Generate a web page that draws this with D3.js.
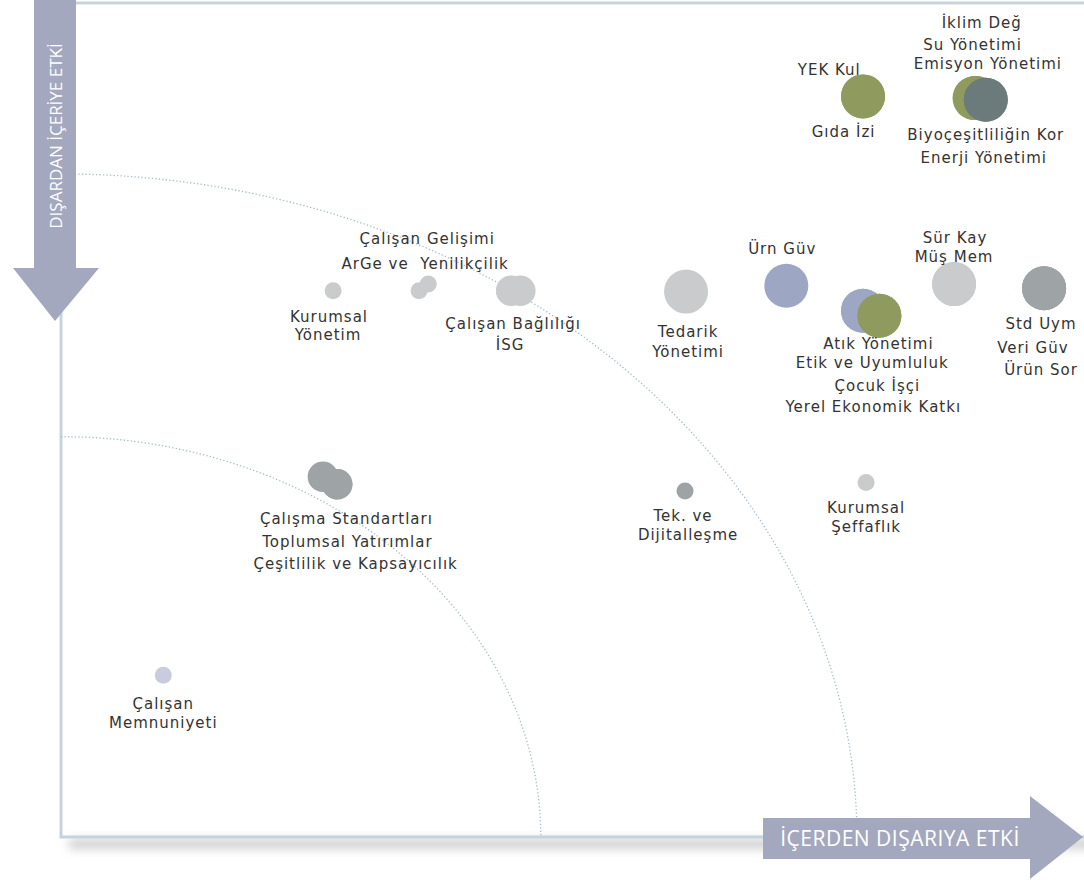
<!DOCTYPE html>
<html>
<head>
<meta charset="utf-8">
<script src="https://cdn.jsdelivr.net/npm/d3@7"></script>
<style>
  body { margin: 0; background: #fff; }
  svg { display: block; }
</style>
</head>
<body>
<div class="chart"></div>
<script>
const W = 1084, H = 880;
const textColor = "#333333";
const frameColor = "#c7d3da";
const arrowColor = "#a4a8be";
const fontFamily = "'DejaVu Sans', sans-serif";
const axisFont = "'Open Sans', sans-serif";

// topics: x = içerden dışarıya etki, y = dışardan içeriye etki (0-100)
const topics = [
    "YEK Kul", "Gıda İzi",
    "İklim Değ", "Su Yönetimi", "Emisyon Yönetimi", "Biyoçeşitliliğin Kor", "Enerji Yönetimi",
    "Kurumsal Yönetim", "ArGe ve Yenilikçilik", "Çalışan Gelişimi",
    "İSG", "Çalışan Bağlılığı", "Tedarik Yönetimi", "Ürn Güv",
    "Atık Yönetimi", "Çocuk İşçi", "Etik ve Uyumluluk", "Yerel Ekonomik Katkı",
    "Sür Kay", "Müş Mem", "Std Uym", "Veri Güv", "Ürün Sor",
    "Çalışma Standartları", "Toplumsal Yatırımlar", "Çeşitlilik ve Kapsayıcılık",
    "Tek. ve Dijitalleşme", "Kurumsal Şeffaflık", "Çalışan Memnuniyeti"
];
const impactOut = [
    78.4, 78.4,
    89.3, 89.4, 89.5, 90.4, 90.4,
    26.6, 35.0, 35.9,
    44.0, 44.9, 61.1, 70.9,
    78.4, 78.4, 80.0, 80.0,
    87.3, 87.3, 96.1, 96.1, 96.1,
    25.6, 27.0, 27.0,
    61.0, 78.7, 10.0
];
const impactIn = [
    88.8, 88.8,
    88.6, 88.6, 88.6, 88.4, 88.4,
    65.5, 65.5, 66.3,
    65.5, 65.5, 65.4, 66.1,
    63.1, 63.1, 62.5, 62.5,
    66.3, 66.3, 65.8, 65.8, 65.8,
    43.2, 42.3, 42.3,
    41.5, 42.5, 19.4
];
const weight = [
    3, 3,
    3, 3, 3, 3, 3,
    1, 1, 1,
    2, 2, 3, 3,
    3, 3, 3, 3,
    3, 3, 3, 3, 3,
    2, 2, 2,
    1, 1, 1
];
const group = [
    "cevre", "cevre",
    "cevre", "cevre", "cevre", "enerji", "enerji",
    "yonetim", "yonetim", "yonetim",
    "yonetim", "yonetim", "yonetim", "urun",
    "urun", "urun", "cevre", "cevre",
    "yonetim", "yonetim", "sosyal", "sosyal", "sosyal",
    "sosyal", "sosyal", "sosyal",
    "sosyal", "yonetim", "calisan"
];
const groupNames = ["cevre", "enerji", "yonetim", "urun", "sosyal", "calisan"];
const groupColors = ["#8f9b5e", "#6b7b7b", "#c9cbcc", "#9da6c3", "#9ea4a5", "#c9cce0"];

// label lines (data units)
const labelText = [
    "Çalışan Gelişimi", "ArGe ve  Yenilikçilik", "Kurumsal", "Yönetim",
    "Çalışan Bağlılığı", "İSG", "Tedarik", "Yönetimi", "Ürn Güv",
    "Sür Kay", "Müş Mem", "Atık Yönetimi", "Etik ve Uyumluluk", "Çocuk İşçi",
    "Yerel Ekonomik Katkı", "Std Uym", "Veri Güv", "Ürün Sor",
    "YEK Kul", "Gıda İzi", "İklim Değ", "Su Yönetimi", "Emisyon Yönetimi",
    "Biyoçeşitliliğin Kor", "Enerji Yönetimi",
    "Çalışma Standartları", "Toplumsal Yatırımlar", "Çeşitlilik ve Kapsayıcılık",
    "Tek. ve", "Dijitalleşme", "Kurumsal", "Şeffaflık", "Çalışan", "Memnuniyeti"
];
const labelX = [
    35.8, 35.6, 26.2, 26.1,
    44.2, 43.9, 61.3, 61.3, 70.5,
    87.4, 87.3, 79.9, 79.3, 79.8,
    79.4, 95.8, 95.0, 95.8,
    75.1, 76.5, 90.0, 89.1, 90.6,
    90.4, 90.2,
    27.9, 28.0, 28.8,
    60.8, 61.3, 78.7, 78.7, 10.0, 10.0
];
const labelY = [
    71.8, 68.7, 62.4, 60.2,
    61.5, 59.1, 60.6, 58.2, 70.6,
    71.9, 69.6, 59.2, 56.9, 54.1,
    51.6, 61.5, 58.7, 56.1,
    92.0, 84.6, 97.6, 95.0, 92.7,
    84.2, 81.5,
    38.2, 35.4, 32.8,
    38.5, 36.2, 39.5, 37.2, 16.0, 13.7
];

// dotted threshold ellipses [rx, ry] in data units
const thresholds = [[46.9, 48.0], [77.8, 79.5]];

const axisX = "İÇERDEN DIŞARIYA ETKİ";
const axisY = "DIŞARDAN İÇERİYE ETKİ";

const x = d3.scaleLinear().domain([0, 100]).range([61, 1084]);
const y = d3.scaleLinear().domain([0, 100]).range([837, 3]);
const r = d3.scaleLinear().domain([1, 3]).range([8.5, 22]);
const color = d3.scaleOrdinal().domain(groupNames).range(groupColors);

const svg = d3.select(".chart")
    .append("svg")
    .attr("width", W)
    .attr("height", H);

const defs = svg.append("defs");
defs.append("filter")
    .attr("id", "shadow")
    .attr("x", "-5%").attr("y", "-200%")
    .attr("width", "110%").attr("height", "500%")
    .append("feGaussianBlur")
    .attr("stdDeviation", 5);

// frame + shadow
svg.append("rect")
    .attr("x", x(0) + 8)
    .attr("y", y(0) + 2)
    .attr("width", W - x(0))
    .attr("height", 10)
    .attr("fill", "#b0b0b0")
    .attr("opacity", 0.6)
    .attr("filter", "url(#shadow)");

svg.append("path")
    .attr("d", `M${W},${y(100)} L${x(0)},${y(100)} L${x(0)},${y(0)} L${W},${y(0)}`)
    .attr("fill", "none")
    .attr("stroke", frameColor)
    .attr("stroke-width", 3);

// threshold arcs
svg.append("g")
    .selectAll("path")
    .data(thresholds)
    .join("path")
    .attr("d", d => `M${x(0)},${y(d[1])} A${x(d[0]) - x(0)},${y(0) - y(d[1])} 0 0 1 ${x(d[0])},${y(0)}`)
    .attr("fill", "none")
    .attr("stroke", "#a3bccb")
    .attr("stroke-width", 1.3)
    .attr("stroke-dasharray", "1.3 2.2");

// bubbles
svg.append("g")
    .selectAll("circle")
    .data(d3.range(topics.length))
    .join("circle")
    .attr("cx", i => x(impactOut[i]))
    .attr("cy", i => y(impactIn[i]))
    .attr("r", i => r(weight[i]))
    .attr("fill", i => color(group[i]));

// labels
svg.append("g")
    .attr("font-family", fontFamily)
    .attr("font-size", 15)
    .attr("letter-spacing", 1)
    .attr("fill", textColor)
    .attr("text-anchor", "middle")
    .selectAll("text")
    .data(d3.range(labelText.length))
    .join("text")
    .attr("x", i => x(labelX[i]))
    .attr("y", i => y(labelY[i]))
    .attr("dy", "0.36em")
    .style("white-space", "pre")
    .text(i => labelText[i]);

// axis arrows
const arrows = svg.append("g").attr("fill", arrowColor);
arrows.append("path")
    .attr("d", "M34,0 L76,0 L76,268 L99,268 L55,321 L13,268 L34,268 Z");
arrows.append("path")
    .attr("d", "M763,818 L1030,818 L1030,796 L1083,837 L1030,879 L1030,859 L763,859 Z");

svg.append("text")
    .attr("transform", "translate(62,136) rotate(-90)")
    .attr("text-anchor", "middle")
    .attr("font-family", axisFont)
    .attr("font-size", 17)
    .attr("fill", "#fff")
    .text(axisY);

svg.append("text")
    .attr("x", 900)
    .attr("y", 846)
    .attr("text-anchor", "middle")
    .attr("font-family", axisFont)
    .attr("font-size", 21)
    .attr("letter-spacing", 0.5)
    .attr("fill", "#fff")
    .text(axisX);
</script>
</body>
</html>
